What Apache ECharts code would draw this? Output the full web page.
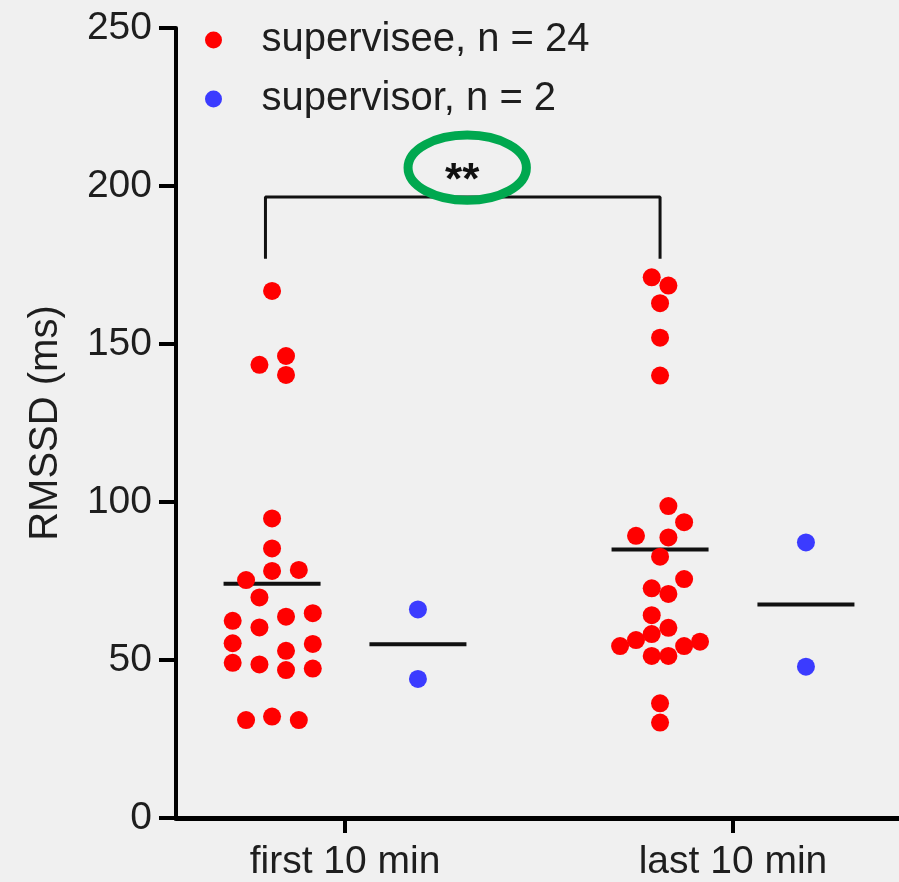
<!DOCTYPE html>
<html>
<head>
<meta charset="utf-8">
<script src="https://cdn.jsdelivr.net/npm/echarts@6/dist/echarts.min.js"></script>
<style>
  html, body { margin: 0; padding: 0; background: #f0f0f0; }
  #chart { width: 899px; height: 882px; }
</style>
</head>
<body>
<div id="chart"></div>
<script>
const FONT = "'Liberation Sans', Arial, sans-serif"
const TEXT = '#1e1e1e'

const categories = ['first 10 min', 'last 10 min']
const categoryPositions = [1, 3]
const subgroupShift = 0.376

// supervisee RMSSD values and beeswarm offsets (axis units)
const firstSupervisee = [166.8, 146.2, 143.4, 140.2, 94.8, 85.3, 78.2, 78.5, 75.3, 69.8, 62.4, 63.7,
  64.8, 60.3, 55.3, 55.1, 52.9, 49.1, 48.6, 46.8, 47.3, 31.0, 32.1, 31.0]
const firstSuperviseeOffsets = [0, 0.072, -0.065, 0.072, 0, 0, 0, 0.138, -0.134, -0.065, -0.203, 0.072,
  0.210, -0.065, -0.203, 0.210, 0.072, -0.203, -0.065, 0.072, 0.210, -0.134, 0, 0.138]
const lastSupervisee = [171.1, 168.5, 162.9, 152.0, 140.0, 98.7, 93.6, 89.3, 88.8, 82.7, 75.6, 72.7,
  70.9, 64.2, 60.2, 58.2, 56.3, 54.4, 55.8, 54.4, 51.3, 51.3, 36.3, 30.2]
const lastSuperviseeOffsets = [-0.043, 0.043, 0, 0, 0, 0.043, 0.124, -0.124, 0.043, 0, 0.124, -0.043,
  0.043, -0.043, 0.043, -0.043, -0.124, -0.206, 0.206, 0.124, -0.043, 0.043, 0, 0]

// supervisor values
const firstSupervisor = [66.0, 44.0]
const lastSupervisor = [87.2, 47.9]

// significance bracket and marker
const bracketX = [0.59, 0.59, 2.624, 2.624]
const bracketY = [177, 196.5, 196.5, 177]
const sigLabel = '**'
const sigPos = [1.63, 205.8]

const yTicks = [0, 50, 100, 150, 200, 250]

const mean = arr => arr.reduce((a, b) => a + b, 0) / arr.length

function points(values, offsets, center) {
  return values.map((v, i) => [center + (offsets ? offsets[i] : 0), v])
}

function meanLine(values, center) {
  const m = mean(values)
  return [[center - 0.25, m], [center + 0.25, m]]
}

const redCenters = categoryPositions.map(c => c - subgroupShift)
const blueCenters = categoryPositions.map(c => c + subgroupShift)

const redData = points(firstSupervisee, firstSuperviseeOffsets, redCenters[0])
  .concat(points(lastSupervisee, lastSuperviseeOffsets, redCenters[1]))
const blueData = points(firstSupervisor, null, blueCenters[0])
  .concat(points(lastSupervisor, null, blueCenters[1]))

const means = [
  meanLine(firstSupervisee, redCenters[0]),
  meanLine(firstSupervisor, blueCenters[0]),
  meanLine(lastSupervisee, redCenters[1]),
  meanLine(lastSupervisor, blueCenters[1]),
]

const gridLeft = 176
const gridRight = 0
const pxPerUnit = 194
const xMin = categoryPositions[0] - (345 - gridLeft) / pxPerUnit
const xMax = xMin + (899 - gridLeft - gridRight) / pxPerUnit

const chart = echarts.init(document.getElementById('chart'))

const meanSeries = means.map(d => ({
  type: 'line',
  data: d,
  symbol: 'none',
  silent: true,
  lineStyle: { color: '#111', width: 4 },
  z: 3,
}))

chart.setOption({
  backgroundColor: '#f0f0f0',
  animation: false,
  grid: { left: gridLeft, right: gridRight, top: 28, bottom: 63 },
  legend: {
    orient: 'vertical',
    left: 200,
    top: 14,
    itemWidth: 32,
    itemHeight: 17,
    itemGap: 17,
    data: [
      { name: 'supervisee, n = 24', icon: 'circle' },
      { name: 'supervisor, n = 2', icon: 'circle' },
    ],
    textStyle: { fontFamily: FONT, fontSize: 40, color: TEXT, padding: [0, 0, 0, 27], lineHeight: 42 },
  },
  xAxis: {
    type: 'value',
    min: xMin,
    max: xMax,
    splitLine: { show: false },
    axisLine: { lineStyle: { color: '#000', width: 5 } },
    axisTick: { show: true, length: 15, lineStyle: { color: '#000', width: 4 }, customValues: categoryPositions },
    axisLabel: {
      customValues: categoryPositions,
      formatter: v => categories[categoryPositions.indexOf(v)] || '',
      fontFamily: FONT, fontSize: 39, color: TEXT, margin: 25,
    },
  },
  yAxis: {
    type: 'value',
    min: 0,
    max: 250,
    interval: 50,
    name: 'RMSSD (ms)',
    nameLocation: 'middle',
    nameGap: 110,
    nameTextStyle: { fontFamily: FONT, fontSize: 40, color: TEXT },
    splitLine: { show: false },
    axisLine: { show: true, lineStyle: { color: '#000', width: 4 } },
    axisTick: { show: true, length: 17, lineStyle: { color: '#000', width: 4 } },
    axisLabel: {
      fontFamily: FONT, fontSize: 39, color: TEXT, margin: 24,
      formatter: v => (yTicks.indexOf(v) >= 0 ? String(v) : ''),
    },
  },
  series: [
    {
      name: 'supervisee, n = 24',
      type: 'scatter',
      data: redData,
      symbolSize: 18,
      itemStyle: { color: '#ff0000', opacity: 1 },
      z: 4,
    },
    {
      name: 'supervisor, n = 2',
      type: 'scatter',
      data: blueData,
      symbolSize: 18,
      itemStyle: { color: '#3b3bff', opacity: 1 },
      z: 4,
    },
    ...meanSeries,
    {
      type: 'line',
      data: bracketX.map((x, i) => [x, bracketY[i]]),
      symbol: 'none',
      silent: true,
      lineStyle: { color: '#111', width: 3 },
      z: 2,
    },
    {
      type: 'custom',
      silent: true,
      data: [sigPos],
      z: 5,
      renderItem: (params, api) => {
        const c = api.coord([api.value(0), api.value(1)])
        const size = api.size([0.305, 10.3])
        return {
          type: 'group',
          children: [
            {
              type: 'ellipse',
              shape: { cx: c[0], cy: c[1], rx: size[0], ry: size[1] },
              style: { fill: 'none', stroke: '#00a84f', lineWidth: 9 },
            },
            {
              type: 'text',
              x: c[0] - 5,
              y: c[1] + 14,
              style: {
                text: sigLabel, fontFamily: FONT, fontSize: 44, fontWeight: 'bold', fill: '#111',
                align: 'center', verticalAlign: 'middle',
              },
            },
          ],
        }
      },
    },
  ],
})
</script>
</body>
</html>
